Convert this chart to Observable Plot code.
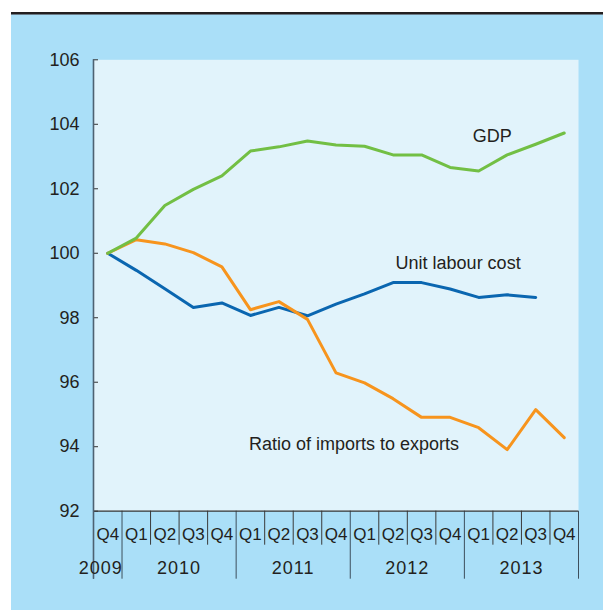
<!DOCTYPE html>
<html><head><meta charset="utf-8">
<script src="https://cdn.jsdelivr.net/npm/d3@7"></script>
<script src="https://cdn.jsdelivr.net/npm/@observablehq/plot@0.6"></script>
<style>
body{margin:0;background:#fff;}
#wrap{position:relative;width:603px;height:610px;overflow:hidden;}
#bg{position:absolute;left:11px;top:14px;right:0;bottom:0;background:#aadff8;border-top:1px solid #6b7c88;}
#rule{position:absolute;left:11px;top:12px;right:0;height:2px;background:#231f20;}
#chart{position:absolute;left:0;top:0;}
</style></head><body>
<div id="wrap"><div id="bg"></div><div id="rule"></div><div id="chart"></div></div>
<script>
// Quarters 2009 Q4 – 2013 Q4
const quarters = ["Q4","Q1","Q2","Q3","Q4","Q1","Q2","Q3","Q4","Q1","Q2","Q3","Q4","Q1","Q2","Q3","Q4"];
const years    = ["2009","2010","2010","2010","2010","2011","2011","2011","2011","2012","2012","2012","2012","2013","2013","2013","2013"];
const gdp              = [100, 100.47, 101.48, 101.98, 102.40, 103.17, 103.30, 103.48, 103.36, 103.32, 103.05, 103.05, 102.66, 102.55, 103.05, 103.38, 103.73];
const unitLabourCost   = [100, 99.47, 98.90, 98.32, 98.46, 98.07, 98.32, 98.06, 98.42, 98.74, 99.09, 99.09, 98.89, 98.63, 98.71, 98.63, null];
const importsToExports = [100, 100.42, 100.29, 100.02, 99.58, 98.25, 98.50, 97.95, 96.29, 95.98, 95.49, 94.91, 94.91, 94.59, 93.91, 95.15, 94.28];
const yTicks = [92, 94, 96, 98, 100, 102, 104, 106];
const seriesLabels = ["GDP", "Unit labour cost", "Ratio of imports to exports"];
const labelQuarterIndex = [13.48, 12.28, 8.63];
const labelValue = [103.62, 99.68, 94.07];

const rows = quarters.map((q, i) => ({i, q, year: years[i], gdp: gdp[i], ulc: unitLabourCost[i], ratio: importsToExports[i]}));
const yearNames = [...new Set(years)];
const yearRows = yearNames.map(y => ({year: y, i: d3.mean(rows.filter(r => r.year === y), r => r.i)}));
const bounds = d3.range(quarters.length + 1).map(k => ({b: k - 0.5, isYear: k === 0 || k === quarters.length || years[k] !== years[k - 1]}));
const labels = seriesLabels.map((t, k) => ({t, i: labelQuarterIndex[k], v: labelValue[k]}));

const font = "Liberation Sans, Arial, Helvetica, sans-serif";
const ink = "#231f20";

const chart = Plot.plot({
  width: 603,
  height: 610,
  marginLeft: 93,
  marginRight: 25,
  marginTop: 59.3,
  marginBottom: 99.3,
  style: {background: "transparent", fontFamily: font, color: ink, overflow: "visible"},
  x: {type: "linear", domain: [-0.5, quarters.length - 0.5], axis: null},
  y: {domain: [92, 106], axis: null},
  marks: [
    Plot.frame({fill: "#e1f3fb", stroke: null}),
    Plot.axisY(yTicks, {tickSize: 0, tickPadding: 14, fontSize: 18, fill: ink, label: null}),
    Plot.axisY(yTicks, {tickSize: -5, tickFormat: () => "", stroke: "#333", label: null}),
    Plot.axisX(bounds.filter(d => !d.isYear).map(d => d.b), {tickSize: 34, tickFormat: () => "", stroke: "#3a3a3a", label: null}),
    Plot.axisX(bounds.filter(d => d.isYear).map(d => d.b), {tickSize: 68, tickFormat: () => "", stroke: "#3d4f5c", label: null}),
    Plot.ruleY([92], {stroke: "#333", strokeWidth: 1.2}),
    Plot.ruleX([-0.5], {stroke: "#4d6272", strokeWidth: 1.6, insetBottom: -68}),
    Plot.text(rows, {x: "i", text: "q", frameAnchor: "bottom", lineAnchor: "middle", dy: 23.5, fontSize: 17, fill: ink}),
    Plot.text(yearRows.filter(d => d.year !== "2009"), {x: "i", text: "year", frameAnchor: "bottom", lineAnchor: "middle", dy: 57, fontSize: 18, fill: ink}),
    Plot.text(yearRows.filter(d => d.year === "2009"), {x: "i", text: "year", frameAnchor: "bottom", lineAnchor: "middle", dy: 57, dx: -7, fontSize: 18, fill: ink}),
    Plot.lineY(rows, {x: "i", y: "ulc", stroke: "#0a66b0", strokeWidth: 3}),
    Plot.lineY(rows, {x: "i", y: "ratio", stroke: "#f7941d", strokeWidth: 3}),
    Plot.lineY(rows, {x: "i", y: "gdp", stroke: "#72bf44", strokeWidth: 3}),
    Plot.text(labels, {x: "i", y: "v", text: "t", fontSize: 18, fill: ink})
  ]
});
d3.select(chart).selectAll("text")
  .filter(function() { return yearNames.includes(this.textContent); })
  .attr("letter-spacing", "1");
document.getElementById("chart").appendChild(chart);
</script>
</body></html>
